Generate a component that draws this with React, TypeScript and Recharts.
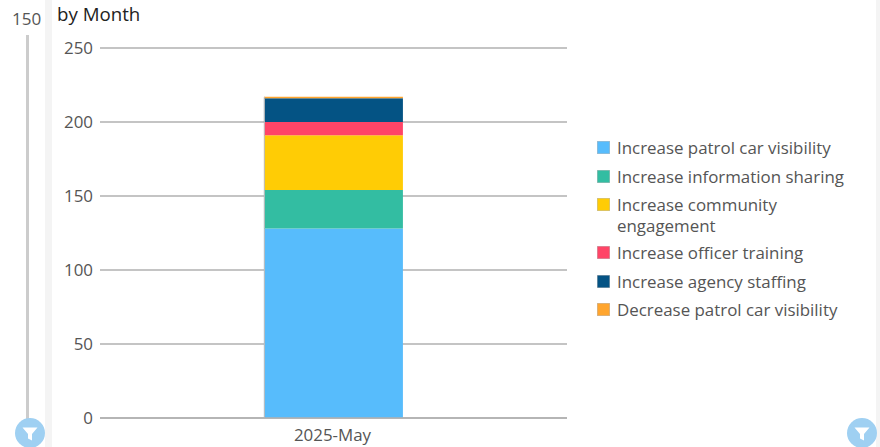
import React from "react";
import { BarChart, Bar, XAxis, YAxis, CartesianGrid, Rectangle } from "recharts";

const categories = ["2025-May"];
const seriesNames = [
  "Increase patrol car visibility",
  "Increase information sharing",
  "Increase community engagement",
  "Increase officer training",
  "Increase agency staffing",
  "Decrease patrol car visibility",
];
const seriesValues = [128, 26, 37, 9, 16, 1];
const seriesColors = ["#57BCFC", "#33BDA2", "#FFCC05", "#FF4567", "#045384", "#FFA52E"];
const yTicks = [0, 50, 100, 150, 200, 250];
const sliderLabel = "150";
const title = "by Month";

const font = "'Open Sans', sans-serif";
const data = categories.map((c) => {
  const row: Record<string, string | number> = { category: c };
  seriesNames.forEach((n, i) => (row[n] = seriesValues[i]));
  return row;
});

const rowTops = [137, 166, 194, 242, 271, 299];

function LegendContent() {
  return (
    <div style={{ position: "absolute", left: 597, top: 137, width: 270, height: 200, fontSize: 16.9, lineHeight: "21px", color: "#555" }}>
      {seriesNames.map((n, i) => (
        <div key={n} style={{ position: "absolute", left: 0, top: rowTops[i] - 137, width: 262, display: "flex" }}>
          <span style={{ width: 13, height: 13, marginTop: 4, marginRight: 7, flex: "none", background: seriesColors[i], boxShadow: "inset 0 0 0 0.5px #bbb" }} />
          <span style={{ width: 235 }}>{n}</span>
        </div>
      ))}
    </div>
  );
}

function Funnel({ cx, cy }: { cx: number; cy: number }) {
  return (
    <svg style={{ position: "absolute", left: cx - 15, top: cy - 15 }} width={30} height={30} viewBox="0 0 30 30">
      <circle cx={15} cy={15} r={15} fill="#9FD0F2" />
      <path d="M7.5 9.5 H22.5 L17 16 V22.5 L13 20.5 V16 Z" fill="#fff" />
    </svg>
  );
}

function EdgedBar(props: any) {
  const { x, y, width, height, fill } = props;
  return (
    <g>
      <Rectangle x={x} y={y} width={width} height={height} fill={fill} />
      <line x1={x + 0.5} x2={x + 0.5} y1={y} y2={y + height} stroke="#BDBDBD" strokeWidth={1} />
    </g>
  );
}

export default function App() {
  return (
    <div style={{ position: "fixed", left: 0, top: 0, width: 880, height: 447, overflow: "hidden", background: "#fff", fontFamily: font }}>
      <div style={{ position: "absolute", left: 45, top: 0, width: 7, height: 447, background: "#F4F4F4" }} />
      <div style={{ position: "absolute", left: 876, top: 0, width: 4, height: 447, background: "#F4F4F4" }} />
      <div style={{ position: "absolute", left: 26, top: 35, width: 3, height: 390, background: "#CCCCCC" }} />
      <div style={{ position: "absolute", left: 12, top: 8, fontSize: 17, lineHeight: "22px", color: "#555" }}>{sliderLabel}</div>
      <div style={{ position: "absolute", left: 57, top: 1, fontSize: 18.7, lineHeight: "25px", color: "#222" }}>{title}</div>
      <div style={{ position: "absolute", left: 0, top: 0 }}>
        <BarChart
          width={880}
          height={447}
          data={data}
          margin={{ top: 48, right: 313, bottom: 0, left: 0 }}
          barCategoryGap="35.1%"
        >
          <CartesianGrid vertical={false} stroke="#B0B0B0" strokeWidth={1.5} />
          <XAxis
            dataKey="category"
            axisLine={{ stroke: "#B0B0B0", strokeWidth: 1.5 }}
            tickLine={false}
            tick={{ fill: "#555", fontSize: 16.9, fontFamily: font, dx: -1 }}
            tickMargin={5}
            height={29}
          />
          <YAxis
            domain={[0, 250]}
            ticks={yTicks}
            axisLine={false}
            tickLine={false}
            tick={{ fill: "#555", fontSize: 16.9, fontFamily: font }}
            tickMargin={1}
            width={100}
          />
          {seriesNames.map((n, i) => (
            <Bar key={n} dataKey={n} stackId="a" fill={seriesColors[i]} shape={<EdgedBar />} isAnimationActive={false} />
          ))}
        </BarChart>
      </div>
      <LegendContent />
      <Funnel cx={30} cy={433} />
      <Funnel cx={862} cy={433} />
    </div>
  );
}
